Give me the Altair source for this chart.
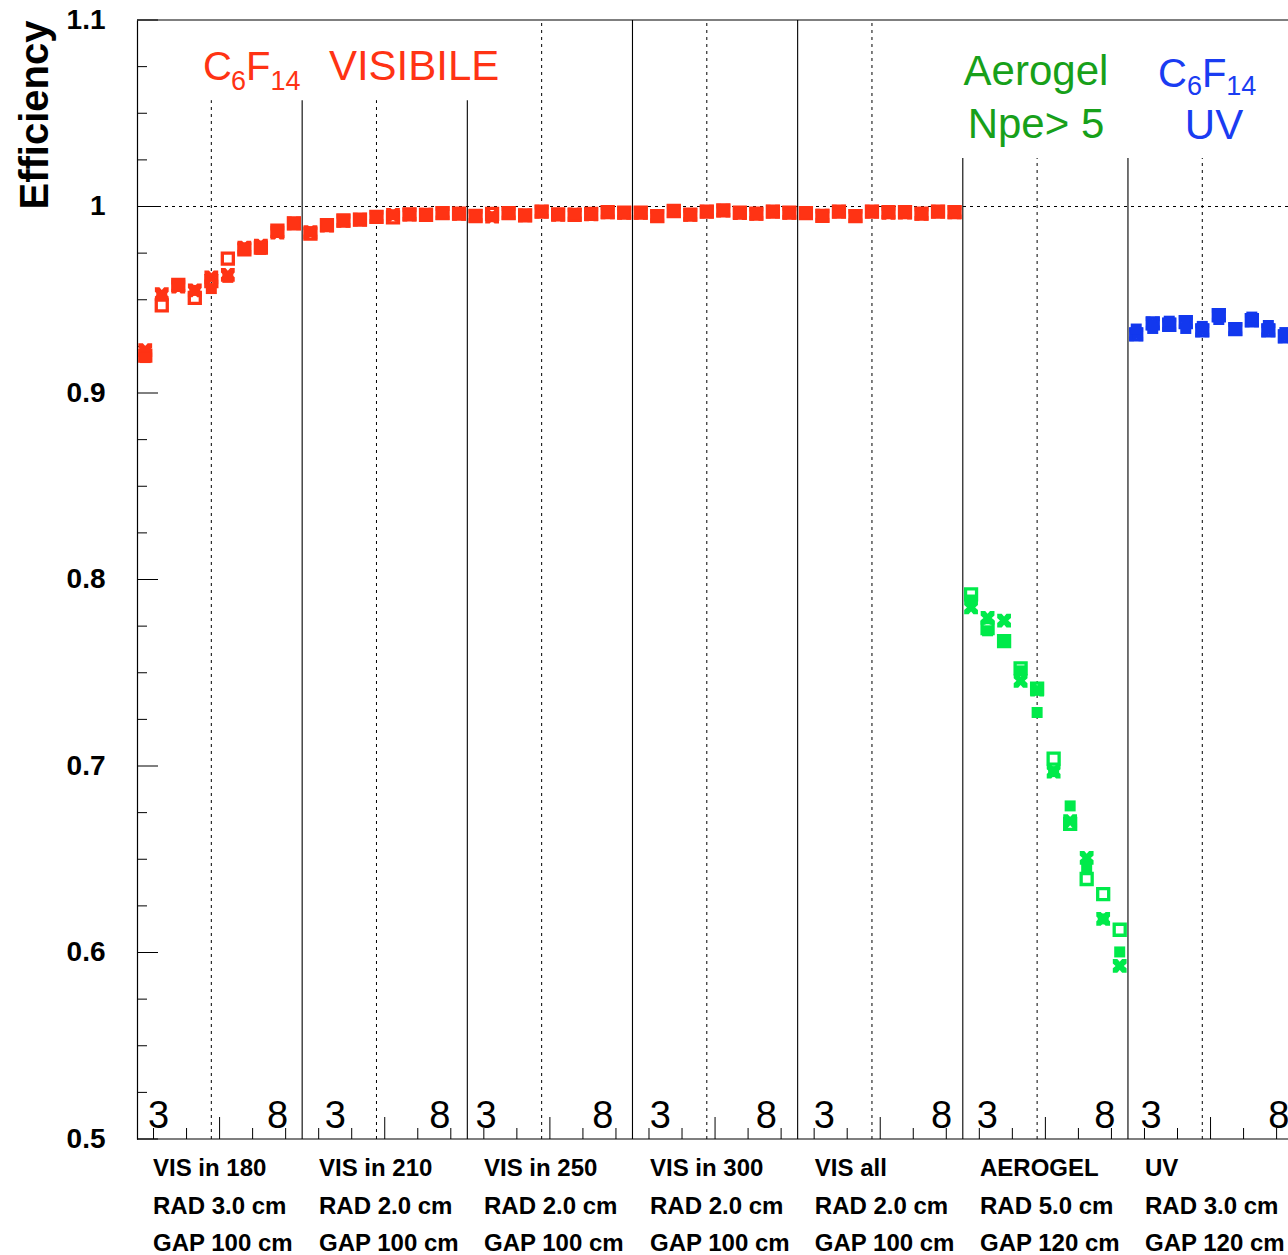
import altair as alt
import pandas as pd

# ---------------------------------------------------------------- data
SECTION_NAME = ["VIS in 180", "VIS in 210", "VIS in 250", "VIS in 300",
                "VIS all", "AEROGEL", "UV"]
SECTION_RAD = ["RAD 3.0 cm", "RAD 2.0 cm", "RAD 2.0 cm", "RAD 2.0 cm",
               "RAD 2.0 cm", "RAD 5.0 cm", "RAD 3.0 cm"]
SECTION_GAP = ["GAP 100 cm", "GAP 100 cm", "GAP 100 cm", "GAP 100 cm",
               "GAP 100 cm", "GAP 120 cm", "GAP 120 cm"]
SECTION_KIND = ["vis", "vis", "vis", "vis", "vis", "aero", "uv"]
N_BINS = 10

# efficiency per momentum bin (10 bins per configuration), three samples
eff_open = [
    [0.920, 0.947, 0.958, 0.951, 0.960, 0.972, 0.977, 0.978, 0.987, 0.991],
    [0.9855, 0.9900, 0.9925, 0.9930, 0.9944, 0.9942, 0.9958, 0.9955, 0.9965, 0.9962],
    [0.9949, 0.9960, 0.9965, 0.9952, 0.9973, 0.9958, 0.9955, 0.9960, 0.9970, 0.9967],
    [0.9967, 0.9948, 0.9976, 0.9956, 0.9973, 0.9979, 0.9967, 0.9962, 0.9973, 0.9967],
    [0.9965, 0.9950, 0.9973, 0.9948, 0.9973, 0.9970, 0.9970, 0.9962, 0.9973, 0.9970],
    [0.792, 0.774, 0.767, 0.7523, 0.7415, 0.704, 0.669, 0.6394, 0.6313, 0.6122],
    [0.9314, 0.9373, 0.9366, 0.9380, 0.9336, 0.9417, 0.9343, 0.9390, 0.9336, 0.9304],
]
eff_filled = [
    [0.919, 0.952, 0.958, 0.955, 0.956, 0.962, 0.977, 0.977, 0.987, 0.991],
    [0.9865, 0.9902, 0.9925, 0.9932, 0.9945, 0.9956, 0.9958, 0.9955, 0.9965, 0.9962],
    [0.9949, 0.9945, 0.9965, 0.9952, 0.9973, 0.9960, 0.9960, 0.9960, 0.9970, 0.9967],
    [0.9967, 0.9948, 0.9976, 0.9956, 0.9973, 0.9979, 0.9967, 0.9962, 0.9973, 0.9967],
    [0.9965, 0.9950, 0.9973, 0.9948, 0.9973, 0.9970, 0.9970, 0.9962, 0.9973, 0.9970],
    [0.789, 0.7725, 0.767, 0.751, 0.7287, 0.697, 0.6786, 0.646, 0.618, 0.6003],
    [0.9343, 0.9346, 0.9385, 0.9346, 0.9357, 0.9394, 0.9343, 0.9407, 0.9362, 0.9324],
]
eff_cross = [
    [0.923, 0.953, 0.957, 0.955, 0.962, 0.9633, 0.978, 0.979, 0.986, 0.991],
    [0.9862, 0.9898, 0.9923, 0.9930, 0.9944, 0.9955, 0.9957, 0.9956, 0.9964, 0.9961],
    [0.9950, 0.9946, 0.9964, 0.9952, 0.9972, 0.9955, 0.9958, 0.9958, 0.9969, 0.9966],
    [0.9966, 0.9949, 0.9975, 0.9955, 0.9972, 0.9978, 0.9965, 0.9961, 0.9972, 0.9966],
    [0.9964, 0.9951, 0.9972, 0.9949, 0.9972, 0.9966, 0.9967, 0.9961, 0.9972, 0.9969],
    [0.785, 0.7794, 0.778, 0.7457, 0.741, 0.697, 0.6705, 0.6507, 0.618, 0.5928],
    [0.9314, 0.9373, 0.9366, 0.9380, 0.9336, 0.9417, 0.9343, 0.9390, 0.9336, 0.9304],
]

# ---------------------------------------------------------------- style
RED, GREEN, BLUE = "#ff3314", "#00ea4a", "#1238ee"
RED_TXT, GREEN_TXT, BLUE_TXT = "#ff3314", "#17a01a", "#1a3cf2"
SANS = "Liberation Sans"

W, H = 1151, 1119
X_MAX = 69.69            # last configuration runs past the right edge
Y_MIN, Y_MAX = 0.5, 1.1

xs = alt.Scale(domain=[0, X_MAX], nice=False, zero=False)
ys = alt.Scale(domain=[Y_MIN, Y_MAX], nice=False, zero=False)
colour = alt.Color("kind:N", legend=None,
                   scale=alt.Scale(domain=["vis", "aero", "uv"], range=[RED, GREEN, BLUE]))

rows = []
for s in range(len(SECTION_NAME)):
    for i in range(N_BINS):
        x = s * N_BINS + i + 0.5
        for sample, table in (("open", eff_open), ("filled", eff_filled), ("cross", eff_cross)):
            rows.append({"x": x, "eff": table[s][i], "sample": sample, "kind": SECTION_KIND[s]})
points = pd.DataFrame(rows)

X_PATH = ("M-1,-1L-0.35,-1L0,-0.6L0.35,-1L1,-1L1,-0.35L0.6,0L1,0.35L1,1"
          "L0.35,1L0,0.6L-0.35,1L-1,1L-1,0.35L-0.6,0L-1,-0.35Z")

def X(field="x"):
    return alt.X(f"{field}:Q", scale=xs, axis=None)

def Y(field="y"):
    return alt.Y(f"{field}:Q", scale=ys)

def sample_layer(name, **mark):
    return alt.Chart(points).transform_filter(alt.datum.sample == name).mark_point(
        opacity=1, clip=True, **mark
    ).encode(x=X(), y=Y("eff"), color=colour)

crosses = sample_layer("cross", shape=X_PATH, filled=True, size=190, strokeWidth=0)
opens = sample_layer("open", shape="square", filled=False, size=121, strokeWidth=3.3)
filleds = sample_layer("filled", shape="square", filled=True, size=121, strokeWidth=0)

# ---------------------------------------------------------------- frame
yaxis = alt.Axis(
    values=[0.5, 0.6, 0.7, 0.8, 0.9, 1.0, 1.1],
    labelExpr="format(datum.value, '.1~f')",
    labelFont=SANS, labelFontWeight="bold", labelFontSize=28, labelColor="black",
    labelPadding=32, ticks=False, grid=False,
    domain=True, domainColor="black", domainWidth=1.2,
    title="Efficiency", titleFont=SANS, titleFontWeight="bold", titleFontSize=40,
    titleColor="black", titleAnchor="end", titleBaseline="alphabetic",
    titleX=-90, titleY=0,
)

frame_h = alt.Chart(pd.DataFrame({"y": [Y_MIN, Y_MAX]})).mark_rule(
    color="black", strokeWidth=1.2).encode(
    y=alt.Y("y:Q", scale=ys, axis=yaxis), x=alt.value(0), x2=alt.value(W))

unity = alt.Chart(pd.DataFrame({"y": [1.0]})).mark_rule(
    color="black", strokeWidth=1, strokeDash=[3, 4]).encode(
    y=Y(), x=alt.value(0), x2=alt.value(W))

# configuration separators (tops are hidden behind the caption boxes)
sep_top = [1.057, 1.057, 1.1, 1.1, 1.026, 1.026]
seps = pd.DataFrame({"x": [(k + 1) * N_BINS for k in range(6)], "y": Y_MIN, "y1": sep_top})
sep_rules = alt.Chart(seps).mark_rule(color="black", strokeWidth=1.1).encode(
    x=X(), y=Y(), y2="y1:Q")

mid_top = [1.057, 1.057, 1.1, 1.1, 1.1, 1.026, 1.026]
mids = pd.DataFrame({"x": [k * N_BINS + 4.5 for k in range(7)], "y": Y_MIN, "y1": mid_top})
mid_rules = alt.Chart(mids).mark_rule(color="black", strokeWidth=1, strokeDash=[3, 4]).encode(
    x=X(), y=Y(), y2="y1:Q")

# inward tick marks
y_minor = pd.DataFrame({"y": [round(Y_MIN + 0.025 * k, 3) for k in range(25) if k % 4]})
y_major = pd.DataFrame({"y": [round(Y_MIN + 0.1 * k, 2) for k in range(7)]})
y_minor_ticks = alt.Chart(y_minor).mark_rule(color="black", strokeWidth=1).encode(
    y=Y(), x=alt.value(0), x2=alt.value(10))
y_major_ticks = alt.Chart(y_major).mark_rule(color="black", strokeWidth=1).encode(
    y=Y(), x=alt.value(0), x2=alt.value(21))

x_minor = pd.DataFrame({"x": [k * N_BINS + e for k in range(7) for e in (1, 3, 7, 9)]})
x_major = pd.DataFrame({"x": [k * N_BINS + 5 for k in range(7)]})
x_minor_ticks = alt.Chart(x_minor).mark_rule(color="black", strokeWidth=1).encode(
    x=X(), y=alt.value(H), y2=alt.value(H - 11))
x_major_ticks = alt.Chart(x_major).mark_rule(color="black", strokeWidth=1).encode(
    x=X(), y=alt.value(H), y2=alt.value(H - 22))

# ---------------------------------------------------------------- text
# first and last momentum labels of every configuration
three_x = [1.30, 12.00, 21.14, 31.69, 41.62, 51.49, 61.40]
eight_x = [8.51, 18.34, 28.21, 38.11, 48.71, 58.60, 69.14]
mom = pd.DataFrame({"x": three_x + eight_x, "y": 0.5059,
                    "t": ["3"] * 7 + ["8"] * 7})
mom_text = alt.Chart(mom).mark_text(
    font=SANS, fontSize=38, color="black", align="center", baseline="alphabetic").encode(
    x=X(), y=Y(), text="t:N")

# configuration description below the axis
label_x = [0.97, 11.02, 21.01, 31.06, 41.04, 51.04, 61.03]
desc_layers = []
for lines, py in ((SECTION_NAME, 1156.4), (SECTION_RAD, 1194.2), (SECTION_GAP, 1230.8)):
    d = pd.DataFrame({"x": label_x, "t": lines})
    desc_layers.append(alt.Chart(d).mark_text(
        font=SANS, fontSize=24, fontWeight="bold", color="black",
        align="left", baseline="alphabetic").encode(
        x=X(), y=alt.value(py), text="t:N"))

# captions for the three radiator groups
def caption(x, y, t, colour_, size, align="left"):
    d = pd.DataFrame({"x": x, "y": y, "t": t})
    return alt.Chart(d).mark_text(
        font=SANS, fontSize=size, align=align, baseline="alphabetic", color=colour_).encode(
        x=X(), y=Y(), text="t:N")

captions = [
    caption([3.996, 6.60], [1.0678] * 2, ["C", "F"], RED_TXT, 40),
    caption([11.62], [1.0678], ["VISIBILE"], RED_TXT, 42),
    caption([5.69, 8.08], [1.0625] * 2, ["6", "14"], RED_TXT, 27),
    caption([54.43, 54.43], [1.0651, 1.0367], ["Aerogel", "Npe> 5"], GREEN_TXT, 42, "center"),
    caption([61.815, 64.48], [1.0640] * 2, ["C", "F"], BLUE_TXT, 40),
    caption([63.57, 65.95], [1.0596] * 2, ["6", "14"], BLUE_TXT, 27),
    caption([65.21], [1.0362], ["UV"], BLUE_TXT, 42, "center"),
]

chart = alt.layer(
    frame_h, unity, sep_rules, mid_rules,
    y_minor_ticks, y_major_ticks, x_minor_ticks, x_major_ticks,
    crosses, opens, filleds,
    mom_text, *desc_layers, *captions,
).properties(
    width=W, height=H,
    autosize=alt.AutoSizeParams(type="none"),
    padding={"left": 137, "top": 20, "right": 0, "bottom": 116},
    background="white",
).configure_view(stroke=None)

chart.save("out.html", embed_options={"renderer": "svg", "actions": False})
